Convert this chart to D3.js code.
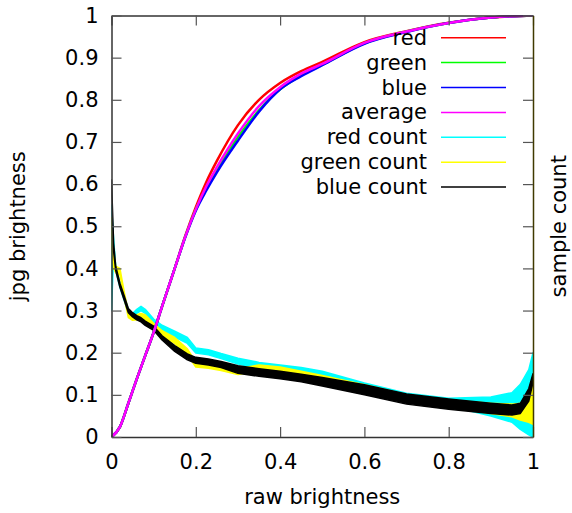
<!DOCTYPE html>
<html>
<head>
<meta charset="utf-8">
<script src="https://cdn.jsdelivr.net/npm/d3@7"></script>
<style>
  body { margin: 0; background: #fff; }
  text { font-family: "DejaVu Sans", sans-serif; font-size: 21px; fill: #000; }
</style>
</head>
<body>
<div id="chart"></div>
<script>
// tick values
const xTicks = [0, 0.2, 0.4, 0.6, 0.8, 1];
const yTicks = [0, 0.1, 0.2, 0.3, 0.4, 0.5, 0.6, 0.7, 0.8, 0.9, 1];

// response curves
const curveX = [0, 0.02, 0.04, 0.06, 0.08, 0.1, 0.12, 0.15, 0.175, 0.2, 0.225, 0.25, 0.3, 0.35, 0.4, 0.45, 0.5, 0.6, 0.7, 0.8, 0.9, 1.0];
const red = [0, 0.024, 0.08, 0.138, 0.193, 0.248, 0.31, 0.40, 0.477, 0.545, 0.605, 0.655, 0.74, 0.80, 0.84, 0.868, 0.89, 0.937, 0.963, 0.983, 0.995, 1.0];
const green = [0, 0.024, 0.08, 0.138, 0.193, 0.248, 0.31, 0.40, 0.475, 0.54, 0.59, 0.635, 0.712, 0.775, 0.825, 0.858, 0.883, 0.934, 0.962, 0.982, 0.995, 1.0];
const blue = [0, 0.024, 0.08, 0.138, 0.193, 0.248, 0.31, 0.40, 0.474, 0.537, 0.585, 0.628, 0.703, 0.772, 0.825, 0.856, 0.882, 0.933, 0.961, 0.982, 0.995, 1.0];
const average = [0, 0.024, 0.08, 0.138, 0.193, 0.248, 0.31, 0.40, 0.475, 0.54, 0.595, 0.64, 0.72, 0.785, 0.83, 0.862, 0.885, 0.935, 0.962, 0.982, 0.995, 1.0];

// sample counts: noisy, so kept as low / high envelope
const countX = [0, 0.005, 0.01, 0.02, 0.03, 0.04, 0.05, 0.06, 0.07, 0.08, 0.1, 0.12, 0.15, 0.18, 0.2, 0.23, 0.26, 0.3, 0.35, 0.4, 0.45, 0.5, 0.6, 0.7, 0.8, 0.9, 0.95, 0.97, 0.99, 1.0];
const redCountLo = [0.30, 0.43, 0.395, 0.355, 0.325, 0.293, 0.283, 0.293, 0.300, 0.293, 0.268, 0.253, 0.237, 0.222, 0.199, 0.195, 0.186, 0.173, 0.163, 0.157, 0.151, 0.140, 0.112, 0.088, 0.074, 0.05, 0.035, 0.018, 0.005, 0.0];
const redCountHi = [0.55, 0.47, 0.405, 0.365, 0.335, 0.303, 0.293, 0.303, 0.310, 0.303, 0.280, 0.265, 0.251, 0.236, 0.211, 0.207, 0.198, 0.187, 0.177, 0.171, 0.165, 0.156, 0.128, 0.104, 0.092, 0.095, 0.105, 0.125, 0.16, 0.2];
const greenCountLo = [0.45, 0.40, 0.39, 0.385, 0.33, 0.283, 0.277, 0.278, 0.282, 0.278, 0.258, 0.24, 0.222, 0.195, 0.166, 0.163, 0.158, 0.148, 0.157, 0.150, 0.140, 0.130, 0.108, 0.085, 0.070, 0.056, 0.048, 0.040, 0.035, 0.03];
const greenCountHi = [0.52, 0.44, 0.405, 0.40, 0.345, 0.297, 0.29, 0.29, 0.293, 0.29, 0.27, 0.252, 0.236, 0.209, 0.178, 0.175, 0.170, 0.162, 0.171, 0.166, 0.156, 0.146, 0.124, 0.100, 0.088, 0.080, 0.078, 0.080, 0.10, 0.12];
const blueCountLo = [0.59, 0.44, 0.395, 0.355, 0.325, 0.295, 0.285, 0.278, 0.273, 0.265, 0.253, 0.230, 0.203, 0.183, 0.175, 0.171, 0.165, 0.151, 0.144, 0.138, 0.131, 0.121, 0.100, 0.078, 0.066, 0.056, 0.052, 0.056, 0.085, 0.13];
const blueCountHi = [0.61, 0.46, 0.405, 0.365, 0.335, 0.305, 0.295, 0.288, 0.283, 0.275, 0.263, 0.240, 0.217, 0.197, 0.189, 0.185, 0.179, 0.169, 0.162, 0.156, 0.149, 0.141, 0.124, 0.102, 0.090, 0.080, 0.076, 0.080, 0.115, 0.15];

const size = {
  width: 572,
  height: 513,
  left: 111.5,
  right: 533,
  top: 15.5,
  bottom: 437
};

const x = d3.scaleLinear().domain([0, 1]).range([size.left, size.right]);
const y = d3.scaleLinear().domain([0, 1]).range([size.bottom, size.top]);

const svg = d3.select("#chart").append("svg")
  .attr("width", size.width)
  .attr("height", size.height);

svg.append("defs").append("clipPath").attr("id", "plot")
  .append("rect")
  .attr("x", size.left).attr("y", size.top)
  .attr("width", size.right - size.left).attr("height", size.bottom - size.top);

const plot = svg.append("g").attr("clip-path", "url(#plot)");

// count bands first
const counts = [
  {name: "red count", colour: "#00ffff", lo: redCountLo, hi: redCountHi},
  {name: "green count", colour: "#ffff00", lo: greenCountLo, hi: greenCountHi},
  {name: "blue count", colour: "#000000", lo: blueCountLo, hi: blueCountHi}
];

const band = d3.area()
  .x((d, i) => x(countX[i]))
  .y0(d => y(d[0]))
  .y1(d => y(d[1]));

counts.forEach(c => {
  plot.append("path")
    .datum(c.lo.map((v, i) => [v, c.hi[i]]))
    .attr("d", band)
    .attr("fill", c.colour)
    .attr("stroke", c.colour)
    .attr("stroke-width", 1.5)
    .attr("stroke-linejoin", "round");
});

// response curves on top
const curves = [
  {name: "red", colour: "#ff0000", values: red},
  {name: "green", colour: "#00ff00", values: green},
  {name: "blue", colour: "#0000ff", values: blue},
  {name: "average", colour: "#ff00ff", values: average}
];

const line = d3.line()
  .x((d, i) => x(curveX[i]))
  .y(d => y(d))
  .curve(d3.curveMonotoneX);

curves.forEach(c => {
  plot.append("path")
    .datum(c.values)
    .attr("d", line)
    .attr("fill", "none")
    .attr("stroke", c.colour)
    .attr("stroke-width", 2.5);
});

// axes, gnuplot style: inward ticks on all four sides
function styleAxis(g, domainColour) {
  g.select(".domain").attr("stroke", domainColour).attr("stroke-width", 1.5);
  g.selectAll(".tick line").attr("stroke", "#555").attr("stroke-width", 1.2);
  g.selectAll(".tick text").attr("font-family", null).attr("font-size", null);
}

svg.append("g")
  .attr("transform", `translate(0, ${size.bottom})`)
  .call(d3.axisBottom(x).tickValues(xTicks).tickSize(-10).tickSizeOuter(0).tickPadding(17).tickFormat(d3.format("")))
  .call(g => styleAxis(g, "#333"));

svg.append("g")
  .attr("transform", `translate(0, ${size.top})`)
  .call(d3.axisTop(x).tickValues(xTicks).tickSize(-10).tickSizeOuter(0).tickFormat(""))
  .call(g => styleAxis(g, "#333"));

svg.append("g")
  .attr("transform", `translate(${size.left}, 0)`)
  .call(d3.axisLeft(y).tickValues(yTicks).tickSize(-10).tickSizeOuter(0).tickPadding(13).tickFormat(d3.format("")))
  .call(g => styleAxis(g, "#333"));

svg.append("g")
  .attr("transform", `translate(${size.right}, 0)`)
  .call(d3.axisRight(y).tickValues(yTicks).tickSize(-10).tickSizeOuter(0).tickFormat(""))
  .call(g => styleAxis(g, "#403a00"));

// axis titles
svg.append("text")
  .attr("x", (size.left + size.right) / 2)
  .attr("y", 497)
  .attr("text-anchor", "middle")
  .attr("dominant-baseline", "central")
  .text("raw brightness");

svg.append("text")
  .attr("transform", `translate(18, ${(size.top + size.bottom) / 2}) rotate(-90)`)
  .attr("text-anchor", "middle")
  .attr("dominant-baseline", "central")
  .text("jpg brightness");

svg.append("text")
  .attr("transform", `translate(559, ${(size.top + size.bottom) / 2}) rotate(-90)`)
  .attr("text-anchor", "middle")
  .attr("dominant-baseline", "central")
  .text("sample count");

// legend
const legend = svg.append("g");
curves.concat(counts).forEach((s, i) => {
  const ly = 37.7 + i * 24.9;
  legend.append("text")
    .attr("x", 427)
    .attr("y", ly)
    .attr("text-anchor", "end")
    .attr("dominant-baseline", "central")
    .text(s.name);
  legend.append("line")
    .attr("x1", 441).attr("x2", 506)
    .attr("y1", ly).attr("y2", ly)
    .attr("stroke", s.colour)
    .attr("stroke-width", 1.5);
});
</script>
</body>
</html>
